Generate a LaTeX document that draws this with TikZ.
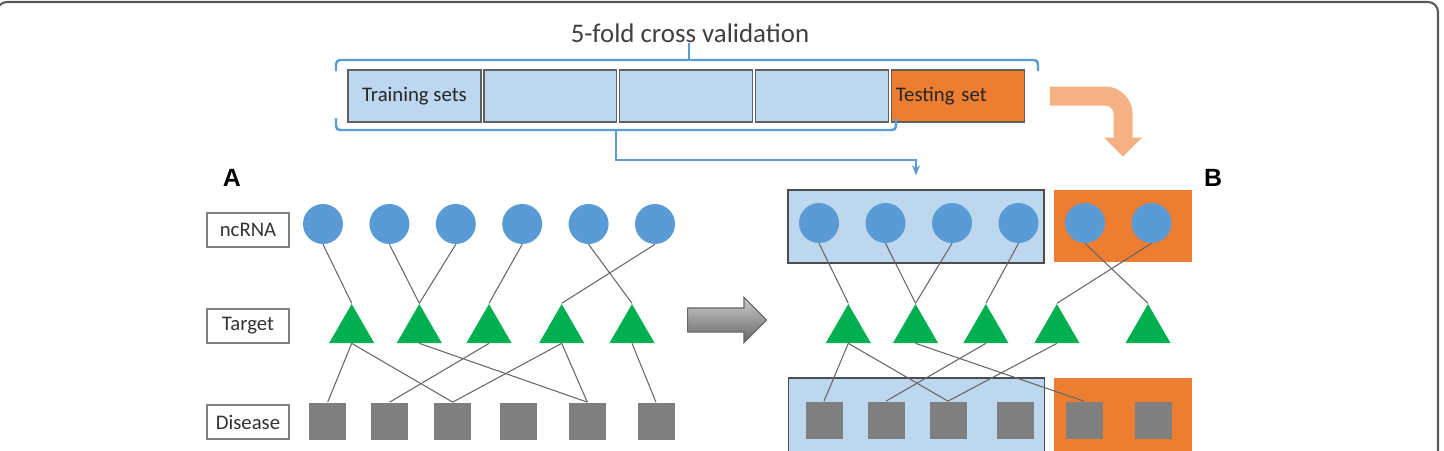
\documentclass[tikz,border=0pt]{standalone}
\usepackage{fontspec}
\setmainfont{Carlito}
\newfontfamily\arialfont{Liberation Sans}
\usepackage{tikz}
\usetikzlibrary{positioning,arrows.meta,shapes.geometric,shapes.arrows}
\definecolor{ncblue}{RGB}{91,155,213}
\definecolor{setblue}{RGB}{189,215,238}
\definecolor{tgtgreen}{RGB}{0,176,80}
\definecolor{disgray}{RGB}{127,127,127}
\definecolor{testorange}{RGB}{237,125,49}
\definecolor{bendsalmon}{RGB}{244,177,131}
\definecolor{txtgray}{RGB}{64,64,64}
\newcommand\lblfont{\fontsize{11.8}{13}\selectfont}

\begin{document}
\begin{tikzpicture}[
  x=0.02cm, y=-0.02cm,
  ncrna/.style   = {circle, fill=ncblue, minimum size=0.8cm, inner sep=0pt},
  target/.style  = {regular polygon, regular polygon sides=3, fill=tgtgreen,
                    minimum size=1.04cm, inner sep=0pt},
  disease/.style = {rectangle, fill=disgray, minimum size=0.74cm, inner sep=0pt},
  rowlbl/.style  = {rectangle, draw=gray, line width=0.8pt, fill=white,
                    minimum width=1.64cm, minimum height=0.68cm, inner sep=0pt,
                    font=\lblfont, text=black!80},
  fold/.style    = {rectangle, fill=setblue, draw=gray!75!black, line width=0.6pt,
                    minimum width=2.66cm, minimum height=1.04cm, inner sep=0pt,
                    outer sep=0pt, font=\lblfont, text=black!85},
  trainbg/.style = {rectangle, fill=setblue, draw=gray!60!black, line width=0.8pt,
                    minimum width=5.12cm, inner sep=0pt},
  testbg/.style  = {rectangle, fill=testorange, minimum width=2.76cm, inner sep=0pt},
  link/.style    = {draw=black!60, line width=0.6pt},
  bracket/.style = {draw=ncblue, line width=1.4pt, rounded corners=0.08cm},
  panel/.style   = {font=\arialfont\fontsize{14.2}{16}\selectfont\bfseries},
  node distance  = 0.06cm
]
\useasboundingbox (0,0) rectangle (1444,450);
\clip (0,0) rectangle (1444,450);
\draw[rounded corners=0.2cm, line width=1.2pt, black!65]
  (-3,520) -- (-3,2) -- (1438,2) -- (1438,520);

% cross validation folds
\node[font=\fontsize{15.3}{17}\selectfont, text=txtgray] (title) at (690,33)
      {5-fold cross validation};
\node[fold] (f1) at (414.5,96) {Training sets};
\node[fold, right=of f1] (f2) {};
\node[fold, right=of f2] (f3) {};
\node[fold, right=of f3] (f4) {};
\node[fold, right=of f4, fill=testorange, text width=2.5cm, align=left,
      inner xsep=0.08cm] (test) {Testing set};

\draw[bracket] (336,71) -- (336,60) -- (1038,60) -- (1038,71);
\draw[bracket] (689,60) -- (689,43);
\draw[bracket] (336,118) -- (336,130) -- (896,130) -- (896,118);

\node[panel] (pa) at (232,178) {A};
\node[panel] (pb) at (1213,178) {B};

% row labels
\node[rowlbl] (lnc)  at (248,230) {ncRNA};
\node[rowlbl] (ltg)  at (248,326) {Target};
\node[rowlbl] (lds)  at (248,422) {Disease};

% panel B backgrounds
\node[trainbg, minimum height=1.46cm] (btop) at (916,226.5) {};
\node[testbg, minimum height=1.44cm] (otop) at (1123,226) {};
\node[trainbg, minimum height=1.84cm] (bbot) at (916.5,424) {};
\node[testbg, minimum height=1.84cm] (obot) at (1123,424) {};

% panel A
\foreach \i in {1,...,6}{
  \node[ncrna] (ac\i) at ({323+66.4*(\i-1)},224) {};
}
\foreach \x [count=\i] in {351.7,419.3,489,561.7,632}{
  \node[target] (at\i) at (\x,330) {};
}
\foreach \x [count=\i] in {327.7,389.7,452.7,518.3,587.3,656}{
  \node[disease] (as\i) at (\x,421) {};
}
\foreach \a/\b in {1/1,2/2,3/2,4/3,5/5,6/4}{
  \draw[link] (ac\a.south) -- (at\b.north);
}
\foreach \a/\b in {1/1,1/3,2/5,3/2,4/3,4/5,5/6}{
  \draw[link] (at\a.south) -- (as\b.north);
}

% panel B
\foreach \i in {1,...,6}{
  \node[ncrna] (bc\i) at ({819+66.5*(\i-1)},223) {};
}
\foreach \x [count=\i] in {848.3,915.5,985.9,1056.9,1148}{
  \node[target] (bt\i) at (\x,330) {};
}
\foreach \x [count=\i] in {824,886,948,1015,1084,1153}{
  \node[disease] (bs\i) at (\x,420) {};
}
\foreach \a/\b in {1/1,2/2,3/2,4/3,5/5,6/4}{
  \draw[link] (bc\a.south) -- (bt\b.north);
}
\foreach \a/\b in {1/1,1/3,2/5,3/2,4/3}{
  \draw[link] (bt\a.south) -- (bs\b.north);
}

% arrows
\node[single arrow, draw=black!60, line width=0.6pt, shading=axis,
      top color=gray!40, bottom color=gray!80!black, shading angle=0,
      inner xsep=0pt, inner ysep=0.23cm, minimum height=1.58cm,
      single arrow head extend=0.21cm] (shift) at (721,320) {};

\coordinate (lowtick) at (616,130);
\coordinate (lowbend) at (616,160);
\draw[bracket, line width=1.2pt, rounded corners=0pt, -{Stealth[length=0.2cm, width=0.16cm]}]
  (lowtick) -- (lowbend) -| ([yshift=0.28cm]btop.north);

\draw[bendsalmon, line width=0.38cm, rounded corners=0.36cm,
      -{Triangle[length=0.38cm, width=0.74cm]}]
  ([xshift=0.5cm]test.east) -| ([yshift=0.66cm]otop.north);
\end{tikzpicture}
\end{document}
